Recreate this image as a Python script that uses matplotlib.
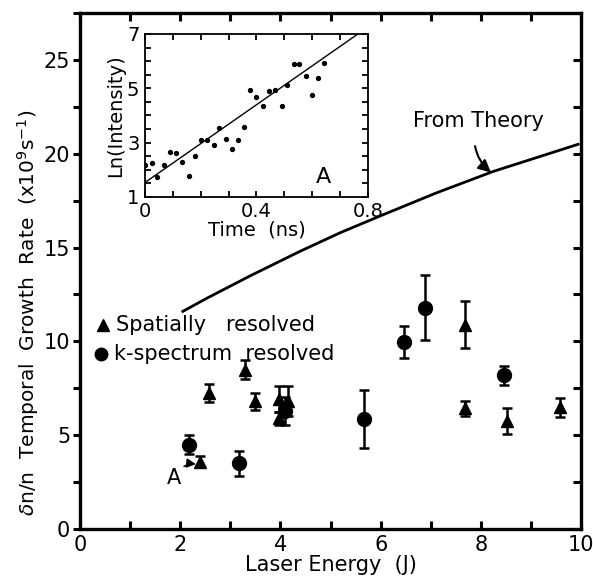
import numpy as np
import matplotlib
matplotlib.use("Agg")
import matplotlib.pyplot as plt
from matplotlib.ticker import MultipleLocator

plt.rcParams['font.family'] = ['DejaVu Sans']
plt.rcParams['mathtext.fontset'] = 'dejavusans'

# theory curve
theory_x = [2.05, 2.53, 3.4, 4.39, 5.2, 6.05, 7.1, 8.24, 9.94]
theory_y = [11.6, 12.3, 13.5, 14.8, 15.8, 16.75, 17.9, 19.05, 20.5]

# spatially resolved (triangles)
sp_x = [2.40, 2.58, 3.30, 3.49, 3.98, 3.98, 4.14, 7.68, 7.68, 8.52, 9.58]
sp_y = [3.6, 7.25, 8.5, 6.8, 6.95, 5.9, 6.85, 10.9, 6.45, 5.75, 6.5]
sp_err = [0.3, 0.5, 0.5, 0.45, 0.7, 0.35, 0.8, 1.25, 0.4, 0.7, 0.5]

# k-spectrum resolved (circles)
ks_x = [2.18, 3.17, 4.10, 5.67, 6.47, 6.89, 8.46]
ks_y = [4.5, 3.5, 6.3, 5.85, 9.95, 11.8, 8.2]
ks_err = [0.5, 0.65, 0.75, 1.55, 0.85, 1.75, 0.5]

# inset: ln(intensity) vs time
in_t = [0.0, 0.025, 0.044, 0.067, 0.091, 0.111, 0.134, 0.157, 0.18, 0.201,
        0.224, 0.246, 0.267, 0.29, 0.311, 0.333, 0.356, 0.377, 0.399, 0.422,
        0.444, 0.466, 0.49, 0.511, 0.533, 0.554, 0.577, 0.599, 0.62, 0.643]
in_y = [2.19, 2.26, 1.74, 2.19, 2.65, 2.63, 2.27, 1.78, 2.51, 3.09,
        3.09, 2.9, 3.54, 3.13, 2.75, 3.09, 3.59, 4.94, 4.69, 4.36,
        4.9, 4.92, 4.33, 5.13, 5.9, 5.9, 5.47, 4.76, 5.37, 5.93]
fit_t = [0.0, 0.764]
fit_y = [1.53, 7.0]

fig = plt.figure(figsize=(5.93, 5.86), dpi=100)
ax = fig.add_axes([0.135, 0.097, 0.845, 0.881])

ax.plot(theory_x, theory_y, color='black', lw=2.0)
ax.errorbar(sp_x, sp_y, yerr=sp_err, fmt='^', color='black', ms=9,
            capsize=3.5, elinewidth=1.8, capthick=1.8)
ax.errorbar(ks_x, ks_y, yerr=ks_err, fmt='o', color='black', ms=10,
            capsize=3.5, elinewidth=1.8, capthick=1.8)

ax.set_xlim(0, 10)
ax.set_ylim(0, 27.5)
ax.xaxis.set_major_locator(MultipleLocator(2))
ax.xaxis.set_minor_locator(MultipleLocator(1))
ax.yaxis.set_major_locator(MultipleLocator(5))
ax.yaxis.set_minor_locator(MultipleLocator(2.5))
ax.tick_params(axis='x', which='both', direction='in', top=True, width=2.2,
               length=6, labelsize=15, pad=4)
ax.tick_params(axis='y', which='both', direction='out', width=2.2,
               length=5, labelsize=15, pad=2)
for s in ax.spines.values():
    s.set_linewidth(2.4)

# right-side inward ticks
axr = ax.twinx()
axr.set_ylim(0, 27.5)
axr.yaxis.set_major_locator(MultipleLocator(2.5))
axr.tick_params(axis='y', direction='in', width=2.2, length=6, labelright=False)

ax.set_xlabel('Laser Energy  (J)', fontsize=15, labelpad=0)
ax.set_ylabel(r'$\delta$n/n  Temporal  Growth  Rate  (x10$^9$s$^{-1}$)',
              fontsize=14.5)
ax.yaxis.set_label_coords(-0.078, 0.42)

# legend (drawn as text with markers)
ax.plot([0.45], [10.85], marker='^', color='black', ms=9, ls='none')
ax.text(0.72, 10.85, 'Spatially   resolved', fontsize=15, va='center')
ax.plot([0.42], [9.35], marker='o', color='black', ms=9, ls='none')
ax.text(0.68, 9.35, 'k-spectrum  resolved', fontsize=15, va='center')

ax.annotate('From Theory', xy=(8.2, 19.0), xytext=(7.95, 21.75),
            fontsize=15, ha='center', va='center',
            arrowprops=dict(arrowstyle='-|>,head_length=0.5,head_width=0.25',
                            color='black', lw=1.5, shrinkA=9, shrinkB=0,
                            connectionstyle='arc3,rad=0.35'))
ax.annotate('A', xy=(2.34, 3.45), xytext=(1.88, 2.75), fontsize=15,
            ha='center', va='center',
            arrowprops=dict(arrowstyle='-|>,head_length=0.35,head_width=0.18',
                            color='black', lw=1.2, relpos=(0.9, 0.9),
                            shrinkA=0, shrinkB=1,
                            connectionstyle='arc3,rad=-0.25'))

# inset
ins = fig.add_axes([0.2445, 0.664, 0.376, 0.278])
ins.plot(in_t, in_y, 'o', color='black', ms=2.8)
ins.plot(fit_t, fit_y, color='black', lw=1.0)
ins.set_xlim(0, 0.8)
ins.set_ylim(1, 7)
ins.set_xticks([0, 0.4, 0.8])
ins.set_xticklabels(['0', '0.4', '0.8'])
ins.xaxis.set_minor_locator(MultipleLocator(0.1))
ins.set_yticks([1, 3, 5, 7])
ins.yaxis.set_minor_locator(MultipleLocator(0.5))
ins.tick_params(which='both', direction='in', top=True, right=True,
                width=1.3, length=4, labelsize=14)
ins.tick_params(axis='x', pad=4)
ins.tick_params(axis='y', pad=4)
for s in ins.spines.values():
    s.set_linewidth(1.3)
ins.set_xlabel('Time  (ns)', fontsize=14, labelpad=-1)
ins.set_ylabel('Ln(Intensity)', fontsize=14, labelpad=1)
ins.text(0.64, 1.75, 'A', fontsize=16, ha='center', va='center')

fig.savefig('out.png', dpi=100)
